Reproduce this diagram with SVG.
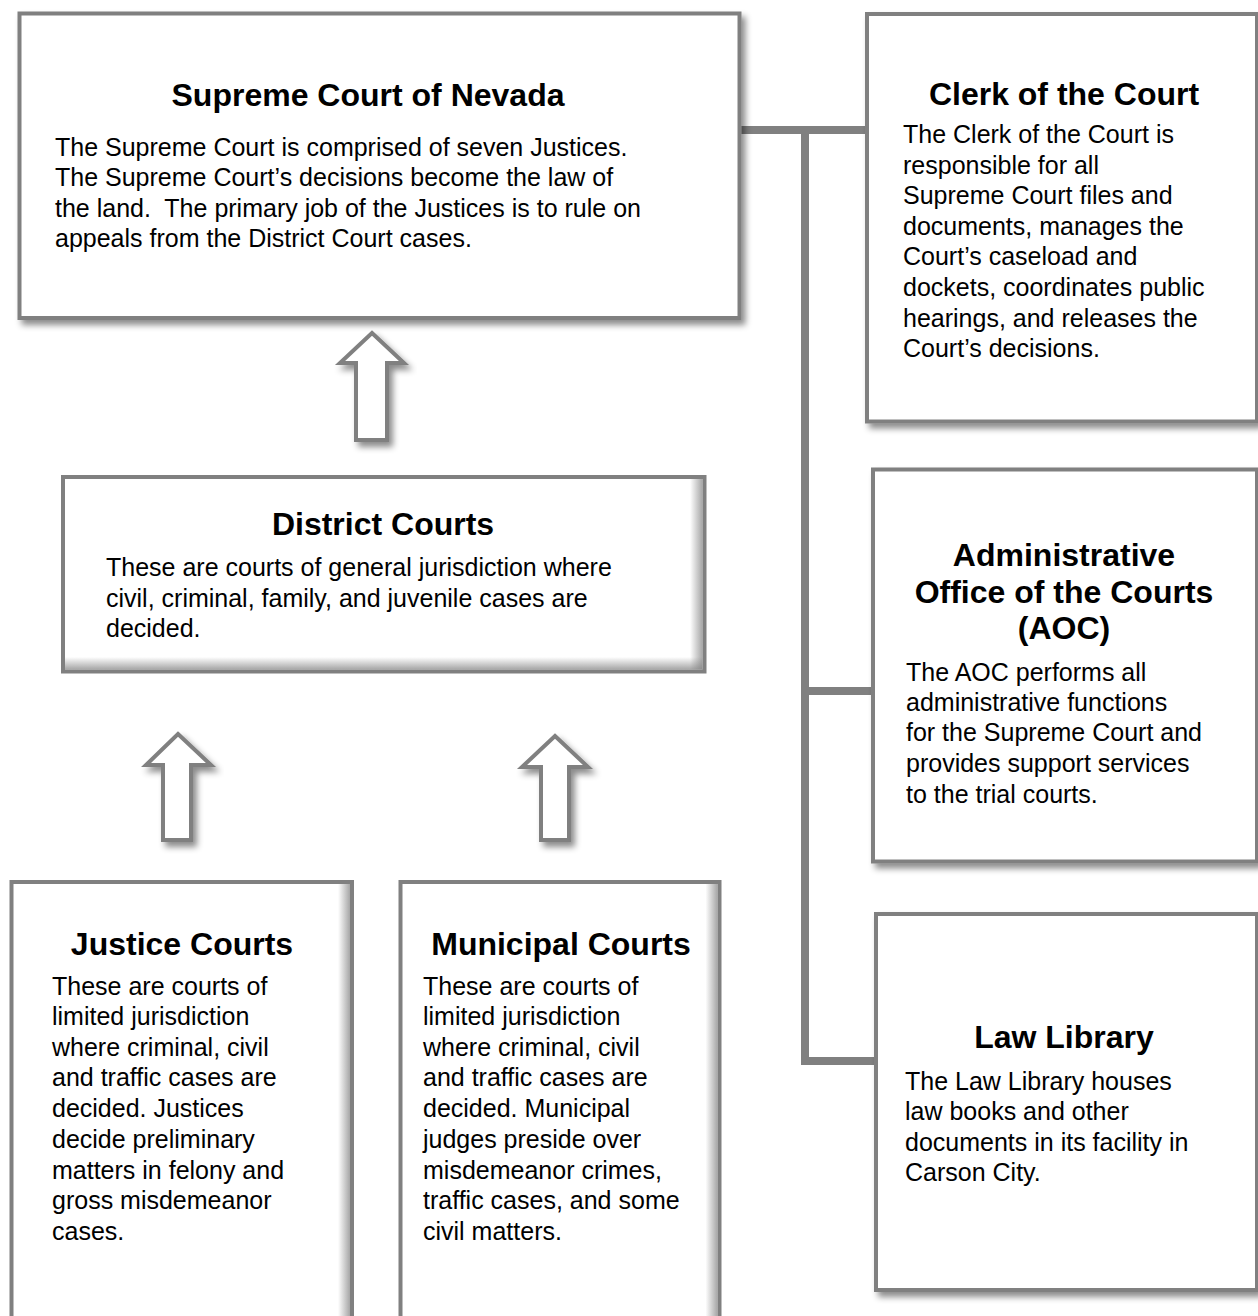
<svg xmlns="http://www.w3.org/2000/svg" width="1258" height="1316" viewBox="0 0 1258 1316">
<defs>
<filter id="sh" x="-10%" y="-10%" width="130%" height="130%">
<feDropShadow dx="4" dy="5" stdDeviation="3" flood-color="#000" flood-opacity="0.45"/>
</filter>
<linearGradient id="gr" x1="1" y1="0" x2="0" y2="0">
<stop offset="0" stop-color="#808080" stop-opacity="0.7"/>
<stop offset="1" stop-color="#808080" stop-opacity="0"/>
</linearGradient>
<linearGradient id="gb" x1="0" y1="1" x2="0" y2="0">
<stop offset="0" stop-color="#808080" stop-opacity="0.7"/>
<stop offset="1" stop-color="#808080" stop-opacity="0"/>
</linearGradient>
</defs>
<style>
.box{fill:#fff;stroke:#808080;stroke-width:4}
.arr{fill:#fff;stroke:#808080;stroke-width:4;stroke-linejoin:miter}
.con{fill:none;stroke:#808080;stroke-width:8}
.t{font-family:"Liberation Sans",Arial,sans-serif;font-weight:bold;font-size:32px;fill:#000;text-anchor:middle}
.b{font-family:"Liberation Sans",Arial,sans-serif;font-size:25px;fill:#000}
</style>
<rect width="1258" height="1316" fill="#fff"/>
<g id="connectors">
<path class="con" d="M740 130 H867 M805 130 V1061 H876 M805 691 H873"/>
</g>
<g id="supreme">
<rect class="box" x="19.5" y="13.5" width="720" height="304.5" filter="url(#sh)"/>
<text class="t" x="368" y="106">Supreme Court of Nevada</text>
<text class="b" x="55" y="156">The Supreme Court is comprised of seven Justices.</text>
<text class="b" x="55" y="186">The Supreme Court’s decisions become the law of</text>
<text class="b" x="55" y="217" xml:space="preserve">the land.  The primary job of the Justices is to rule on</text>
<text class="b" x="55" y="247">appeals from the District Court cases.</text>
</g>
<g id="clerk">
<rect class="box" x="867" y="14" width="390" height="407.5" filter="url(#sh)"/>
<text class="t" x="1064" y="105">Clerk of the Court</text>
<text class="b" x="903" y="143">The Clerk of the Court is</text>
<text class="b" x="903" y="174">responsible for all</text>
<text class="b" x="903" y="204">Supreme Court files and</text>
<text class="b" x="903" y="235">documents, manages the</text>
<text class="b" x="903" y="265">Court’s caseload and</text>
<text class="b" x="903" y="296">dockets, coordinates public</text>
<text class="b" x="903" y="327">hearings, and releases the</text>
<text class="b" x="903" y="357">Court’s decisions.</text>
</g>
<g id="arrow-district-supreme">
<polygon class="arr" points="372,333 404,363 387,363 387,440 356,440 356,363 340,363" filter="url(#sh)"/>
</g>
<g id="district">
<rect class="box" x="63" y="477" width="641.5" height="194.5"/>
<rect x="690" y="479" width="12.5" height="190.5" fill="url(#gr)"/>
<rect x="65" y="657" width="637.5" height="12.5" fill="url(#gb)"/>
<text class="t" x="383" y="535">District Courts</text>
<text class="b" x="106" y="576">These are courts of general jurisdiction where</text>
<text class="b" x="106" y="607">civil, criminal, family, and juvenile cases are</text>
<text class="b" x="106" y="637">decided.</text>
</g>
<g id="aoc">
<rect class="box" x="873" y="469.5" width="384" height="392" filter="url(#sh)"/>
<text class="t" x="1064" y="566">Administrative</text>
<text class="t" x="1064" y="603">Office of the Courts</text>
<text class="t" x="1064" y="639">(AOC)</text>
<text class="b" x="906" y="681">The AOC performs all</text>
<text class="b" x="906" y="711">administrative functions</text>
<text class="b" x="906" y="741">for the Supreme Court and</text>
<text class="b" x="906" y="772">provides support services</text>
<text class="b" x="906" y="803">to the trial courts.</text>
</g>
<g id="arrow-justice-district">
<polygon class="arr" points="178,734 211,765 191,765 191,840 163,840 163,765 146,765" filter="url(#sh)"/>
</g>
<g id="arrow-municipal-district">
<polygon class="arr" points="555,736 588,767 569,767 569,840 541,840 541,767 522,767" filter="url(#sh)"/>
</g>
<g id="law">
<rect class="box" x="876" y="914" width="381" height="376" filter="url(#sh)"/>
<text class="t" x="1064" y="1048">Law Library</text>
<text class="b" x="905" y="1090">The Law Library houses</text>
<text class="b" x="905" y="1120">law books and other</text>
<text class="b" x="905" y="1151">documents in its facility in</text>
<text class="b" x="905" y="1181">Carson City.</text>
</g>
<g id="justice">
<rect class="box" x="11.5" y="882" width="340.5" height="450"/>
<rect x="338" y="884" width="12" height="440" fill="url(#gr)"/>
<text class="t" x="182" y="955">Justice Courts</text>
<text class="b" x="52" y="995">These are courts of</text>
<text class="b" x="52" y="1025">limited jurisdiction</text>
<text class="b" x="52" y="1056">where criminal, civil</text>
<text class="b" x="52" y="1086">and traffic cases are</text>
<text class="b" x="52" y="1117">decided. Justices</text>
<text class="b" x="52" y="1148">decide preliminary</text>
<text class="b" x="52" y="1179">matters in felony and</text>
<text class="b" x="52" y="1209">gross misdemeanor</text>
<text class="b" x="52" y="1240">cases.</text>
</g>
<g id="municipal">
<rect class="box" x="400.5" y="882" width="319" height="450"/>
<rect x="705.5" y="884" width="12" height="440" fill="url(#gr)"/>
<text class="t" x="561" y="955">Municipal Courts</text>
<text class="b" x="423" y="995">These are courts of</text>
<text class="b" x="423" y="1025">limited jurisdiction</text>
<text class="b" x="423" y="1056">where criminal, civil</text>
<text class="b" x="423" y="1086">and traffic cases are</text>
<text class="b" x="423" y="1117">decided. Municipal</text>
<text class="b" x="423" y="1148">judges preside over</text>
<text class="b" x="423" y="1179">misdemeanor crimes,</text>
<text class="b" x="423" y="1209">traffic cases, and some</text>
<text class="b" x="423" y="1240">civil matters.</text>
</g>
</svg>
